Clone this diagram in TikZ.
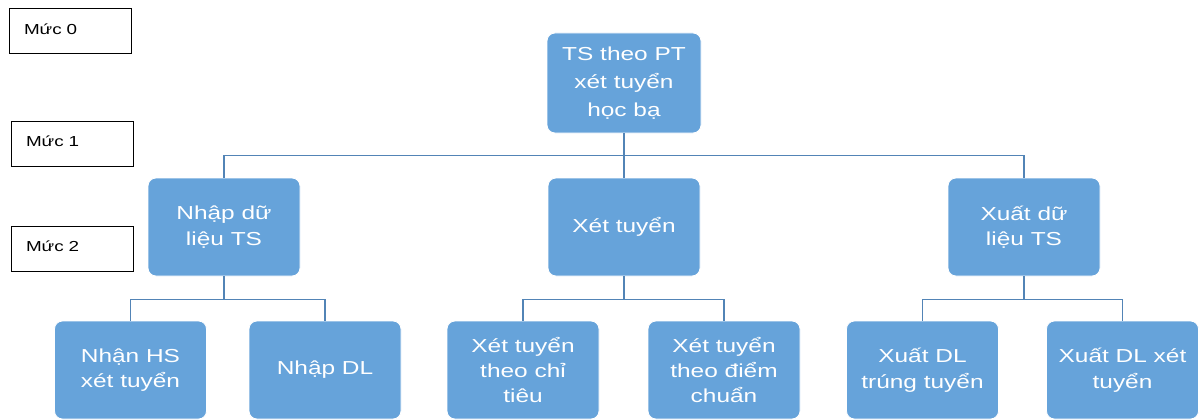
\documentclass[tikz,border=0pt]{standalone}
\usepackage{fontspec}
\setmainfont{Liberation Sans}
% slightly widened sans face used for all labels
\newfontfamily\boxfont[FakeStretch=1.3]{Liberation Sans}
\definecolor{boxblue}{RGB}{102,163,218}
\definecolor{linkblue}{RGB}{82,132,182}
\begin{document}
\begin{tikzpicture}[x=1pt,y=-1pt,
  task/.style={draw=white,line width=0.8pt,fill=boxblue,rounded corners=8pt,
    minimum width=152,minimum height=98,inner sep=2pt,align=center,text=white,
    font=\boxfont\fontsize{18.8}{25.5}\selectfont},
  levelbox/.style={draw=black,line width=1pt,fill=white,text width=92,inner xsep=15,
    minimum height=45,align=left,text depth=5pt,font=\boxfont\fontsize{14.5}{16}\selectfont},
  link/.style={draw=linkblue,line width=1.5pt}]
\useasboundingbox (0,0) rectangle (1199,420);

% level markers
\node[levelbox] (m0) at (70,31.5) {Mức 0};
\node[levelbox] (m1) at (72,143.5) {Mức 1};
\node[levelbox] (m2) at (72,248.5) {Mức 2};

% root
\node[task,minimum width=154,minimum height=100,font=\boxfont\fontsize{18.8}{28}\selectfont]
  (root) at (624,83) {TS theo PT\\xét tuyển\\học bạ};

% level 1
\node[task] (nhap) at (224,227) {Nhập dữ\\liệu TS};
\node[task] (xet)  at (624,227) {Xét tuyển};
\node[task] (xuat) at (1024,227) {Xuất dữ\\liệu TS};

% level 2
\node[task] (nhan)   at (130.5,370) {Nhận HS\\xét tuyển};
\node[task] (nhapdl) at (325,370)   {Nhập DL};
\node[task] (chitieu) at (523,370)  {Xét tuyển\\theo chỉ\\tiêu};
\node[task] (diem)   at (724,370)   {Xét tuyển\\theo điểm\\chuẩn};
\node[task] (trung)  at (922.5,370) {Xuất DL\\trúng tuyển};
\node[task] (xuatxet) at (1122.5,370) {Xuất DL xét\\tuyển};

% connectors
\foreach \c in {nhap,xet,xuat}
  \draw[link] (root.south) -- ++(0,22) -| (\c.north);
\foreach \c in {nhan,nhapdl}
  \draw[link] (nhap.south) -- ++(0,23) -| (\c.north);
\foreach \c in {chitieu,diem}
  \draw[link] (xet.south) -- ++(0,23) -| (\c.north);
\foreach \c in {trung,xuatxet}
  \draw[link] (xuat.south) -- ++(0,23) -| (\c.north);
\end{tikzpicture}
\end{document}
